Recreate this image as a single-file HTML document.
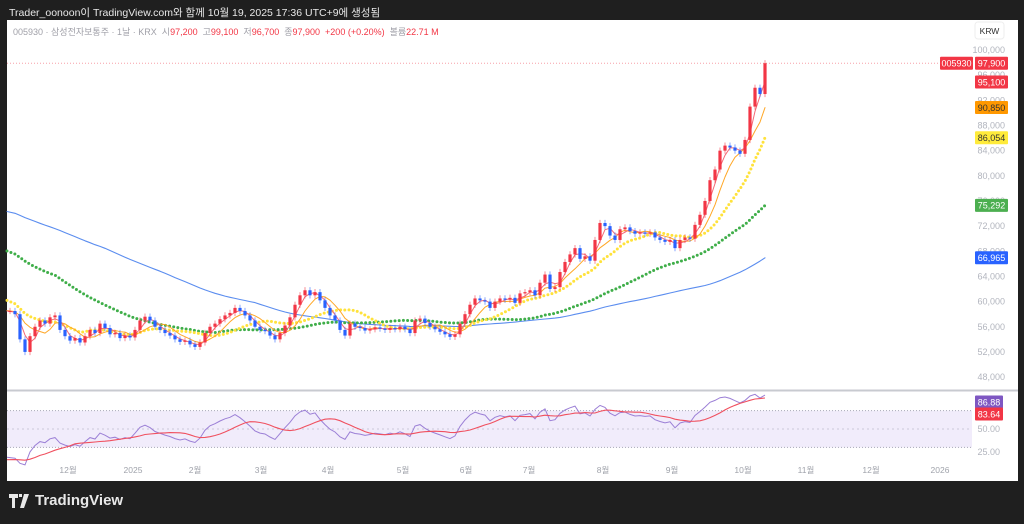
<!DOCTYPE html>
<html><head><meta charset="utf-8">
<style>
html,body{margin:0;padding:0;background:#1f1f1f;width:1024px;height:524px;overflow:hidden;font-family:"Liberation Sans","Noto Sans CJK KR",sans-serif}
#hdr{position:absolute;left:9px;top:5px;font-size:10.5px;color:#e8e8e8}
#panel{position:absolute;left:7px;top:20px;width:1011px;height:461px;background:#fff}
#legend{position:absolute;left:13px;top:25px;font-size:9px;color:#a0a0a8;white-space:nowrap}
#legend .r{color:#f23645}
#logo{position:absolute;left:9px;top:492px;color:#e8e8e8;font-size:15px;font-weight:bold;display:flex;align-items:center;gap:4px}
svg{position:absolute;left:0;top:0}
</style></head><body>
<div id="hdr">Trader_oonoon이 TradingView.com와 함께 10월 19, 2025 17:36 UTC+9에 생성됨</div>
<div id="panel"></div>
<svg id="chart" width="1024" height="524"></svg>
<div id="legend">005930 · 삼성전자보통주 · 1날 · KRX &nbsp;시<span class="r">97,200</span> &nbsp;고<span class="r">99,100</span> &nbsp;저<span class="r">96,700</span> &nbsp;종<span class="r">97,900</span> &nbsp;<span class="r">+200 (+0.20%)</span> &nbsp;볼륨<span class="r">22.71 M</span></div>
<div id="logo"><svg style="position:static" width="22" height="14" viewBox="0 0 22 14"><path d="M0 0h9v4H6v10H3V4H0z M10 0h3v3h-3z M15 0h5l-5 14h-4z" fill="#e8e8e8"/></svg>TradingView</div>
<script>
const hist=[80,80,81,80,79,80,81,80,79,80,80,81,80,79,80,81,80,80,79,80,82,83,84,83,82,81,82,83,82,81,80,81,82,81,80,79,80,81,80,79,78,77,76,75,74,73,72,71,70,69,77,76,75,75,74,73,73,72,72,71,70,70,69,68,68,67,66,66,65,64,62,61,60,60,59,59,58,59,58.5,58.5];
const closes=[58.5,58,54,52,54.5,56,57,56.5,57.5,57.8,55.5,54.5,53.8,54.2,53.5,54.5,55.5,55,56.5,55.8,54.8,55,54.2,54.6,54.3,55.5,57,57.6,57,56,55.5,55,54.6,54,53.6,53.8,53.2,52.8,53.5,55,56,56.5,57.2,57.8,58.2,59,58.5,57.8,57,56,55.5,55.3,54.6,54,55,56.2,57.5,59.5,61,61.8,61,61.5,60.2,59,57.8,57,55.5,54.6,56.5,56,55.8,55.4,55.6,55.9,55.7,55.5,55.8,55.6,56,55.6,55,57,57.3,56.6,56,55.6,55.2,54.8,54.4,54.8,56.5,58,59.5,60.5,60.2,60,59,60,60.5,60.3,60.6,59.8,61.3,61.5,61.8,61,63,64.3,62,62.3,64.7,66.3,67.5,68.5,66.8,67.2,66.5,69.8,72.5,72,70.5,69.8,71.5,71.8,71.2,70.8,71,70.8,71,70.2,69.8,69.5,69.8,68.5,69.8,70.2,70,72.2,73.8,76,79.3,81,84,84.8,84.5,84,83.5,85.7,91,94,93,97.9];
const priceTicks=[100000,96000,92000,88000,84000,80000,76000,72000,68000,64000,60000,56000,52000,48000];
const monthLabels=["12월","2025","2월","3월","4월","5월","6월","7월","8월","9월","10월","11월","12월","2026"];
const monthIdx=[11.6,24.6,37,50.2,63.6,78.6,91.2,103.8,118.6,132.4,146.6,159.2,172.2,186];
const rsiTicks=[50,25];
const maPeriods=[3,6,13,40,80];

const NS="http://www.w3.org/2000/svg";
const svg=document.getElementById('chart');
const X=i=>10+5*i;
const Y=p=>50+(100-p)*6.29;
const RY=v=>429-(v-50)*0.92;
function mk(t,a,parent){const e=document.createElementNS(NS,t);for(const k in a)e.setAttribute(k,a[k]);(parent||svg).appendChild(e);return e;}
const all=hist.concat(closes),H=hist.length;
mk('line',{x1:7,x2:1018,y1:390.5,y2:390.5,stroke:'#c8cad0','stroke-width':2});
mk('line',{x1:7,x2:972,y1:Y(97.9),y2:Y(97.9),stroke:'#f7a0a8','stroke-width':1,'stroke-dasharray':'1 2'});
function sma(arr,n,i){let s=0;for(let k=i-n+1;k<=i;k++)s+=arr[k];return s/n;}
const maStyle=[{c:'#f56a77',w:1,d:''},{c:'#ffa726',w:1,d:''},{c:'#ffe23b',w:3,d:'0 4.2'},{c:'#3fae49',w:3,d:'0 4.2'},{c:'#5b8def',w:1.1,d:''}];
const maNames=['ma5-line','ma10-line','ma20-dots','ma60-dots','ma120-line'];
const maLast=[];
[4,3,2,1,0].forEach(m=>{
  let pts=[];
  closes.forEach((c,i)=>{pts.push((i==0?7:X(i))+','+Y(sma(all,maPeriods[m],H+i)).toFixed(1));});
  maLast[m]=sma(all,maPeriods[m],H+closes.length-1);
  const p=mk('polyline',{points:pts.join(' '),fill:'none',stroke:maStyle[m].c,'stroke-width':maStyle[m].w,'stroke-dasharray':maStyle[m].d,'stroke-linecap':'round','stroke-linejoin':'round'});
  
  
});
closes.forEach((c,i)=>{
  const o=i==0?hist[H-1]:closes[i-1];
  const up=c>=o,col=up?'#f23645':'#2962ff';
  const hi=Math.max(o,c)+0.5,lo=Math.min(o,c)-0.5;
  const g=mk('g',{});
  
  
  mk('line',{x1:X(i),x2:X(i),y1:Y(hi),y2:Y(lo),stroke:col,'stroke-width':0.8,opacity:0.7},g);
  const t=Y(Math.max(o,c)),b=Y(Math.min(o,c));
  mk('rect',{x:X(i)-1.6,y:t,width:3.2,height:Math.max(1,b-t),fill:col},g);
});
priceTicks.forEach(p=>{
  const t=mk('text',{x:1005,y:Y(p/1000)+3,'text-anchor':'end','font-size':9,fill:'#b2b5be'});
  t.textContent=p.toLocaleString('en-US');
  
  
});
const kb=mk('rect',{x:975,y:22,width:29,height:17,rx:3,fill:'#fff',stroke:'#eee'});


const kt=mk('text',{x:989.5,y:34,'text-anchor':'middle','font-size':8.5,fill:'#333'});kt.textContent='KRW';
function tag(x,y,w,val,bg,fg,name){
  const r=mk('rect',{x:x,y:y-6.5,width:w,height:13,fill:bg,rx:1});
  
  
  const t=mk('text',{x:x+w/2,y:y+3.3,'text-anchor':'middle','font-size':9,fill:fg});t.textContent=val;
}
const fmt=v=>Math.round(v*1000).toLocaleString('en-US');
tag(940,Y(97.9),33,'005930','#f23645','#fff','symbol-tag');
tag(975,Y(97.9),33,fmt(closes[closes.length-1]),'#f23645','#fff','last-price-tag');
tag(975,82,33,'95,100','#f23645','#fff','prev-price-tag');
tag(975,Y(maLast[1]),33,fmt(maLast[1]),'#ff9800','#333','ma10-tag');
tag(975,Y(maLast[2]),33,fmt(maLast[2]),'#ffeb3b','#333','ma20-tag');
tag(975,Y(maLast[3]),33,fmt(maLast[3]),'#4caf50','#fff','ma60-tag');
tag(975,Y(maLast[4]),33,fmt(maLast[4]),'#2962ff','#fff','ma120-tag');
const band=mk('rect',{x:7,y:RY(70),width:965,height:RY(30)-RY(70),fill:'#f1ecfb'});


[70,50,30].forEach(v=>mk('line',{x1:7,x2:972,y1:RY(v),y2:RY(v),stroke:'#a8a8b8','stroke-width':1,'stroke-dasharray':v==50?'2 3':'1 2',opacity:v==50?0.5:1}));
const rsi=[];let ag=0,al=0;const N=14;
for(let i=1;i<all.length;i++){const d=all[i]-all[i-1],g=Math.max(d,0),l=Math.max(-d,0);
  if(i<=N){ag+=g/N;al+=l/N;}else{ag=(ag*(N-1)+g)/N;al=(al*(N-1)+l)/N;}
  rsi[i]=al==0?100:100-100/(1+ag/al);}
const rp=[],sp=[];let lastR,lastS;
closes.forEach((c,i)=>{const k=H+i;const r=rsi[k];let s=0;for(let j=k-9;j<=k;j++)s+=rsi[j];s/=10;
  rp.push((i==0?7:X(i))+','+RY(r).toFixed(1));sp.push((i==0?7:X(i))+','+RY(s).toFixed(1));lastR=r;lastS=s;});
const rl=mk('polyline',{points:rp.join(' '),fill:'none',stroke:'#9b7fd6','stroke-width':1});


const sl=mk('polyline',{points:sp.join(' '),fill:'none',stroke:'#f0505f','stroke-width':1.1});


rsiTicks.forEach(v=>{const t=mk('text',{x:1000,y:RY(v)+3,'text-anchor':'end','font-size':9,fill:'#b2b5be'});t.textContent=v.toFixed(2);
  
  });
tag(975,402,28,lastR.toFixed(2),'#7e57c2','#fff','rsi-value-tag');
tag(975,414,28,lastS.toFixed(2),'#f23645','#fff','rsi-ma-tag');
monthLabels.forEach((m,i)=>{const t=mk('text',{x:X(monthIdx[i]),y:473,'text-anchor':'middle','font-size':8.5,fill:'#a0a3ab'});t.textContent=m;
  
  });
</script>
</body></html>
